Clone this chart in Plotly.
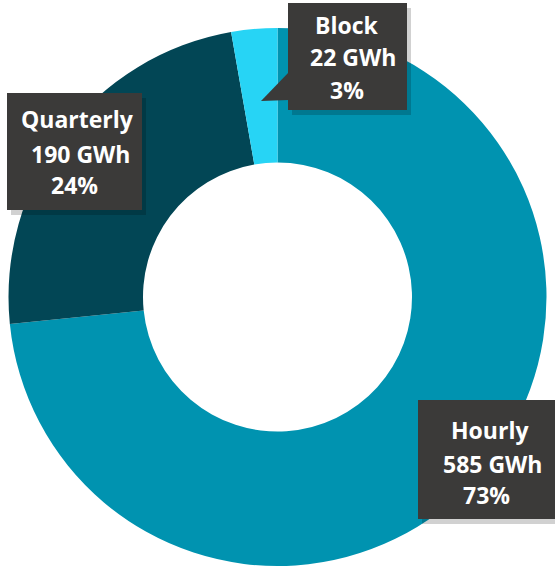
import plotly.graph_objects as go

categories = ["Hourly", "Quarterly", "Block"]
values_gwh = [585, 190, 22]
percent_labels = ["73%", "24%", "3%"]
colors = ["#0093b0", "#024655", "#27d4f5"]

W, H = 555, 571

def px(x):
    return x / W

def py(y):
    return 1 - y / H

cx, cy, r = 277.5, 297, 269

fig = go.Figure()
fig.add_trace(go.Pie(
    labels=categories,
    values=values_gwh,
    hole=0.5,
    sort=False,
    direction="clockwise",
    rotation=0,
    marker=dict(colors=colors, line=dict(width=0)),
    textinfo="none",
    hoverinfo="label+value+percent",
    showlegend=False,
    domain=dict(x=[px(cx - r), px(cx + r)], y=[py(cy + r), py(cy - r)]),
))

box_color = "#3b3a39"
shadow_color = "rgba(0,0,0,0.18)"

# label boxes: (x0, y0, x1, y1) in pixels
boxes = {
    "Block": (288, 3, 407, 110),
    "Quarterly": (7, 93, 142, 210),
    "Hourly": (418, 400, 556, 519),
}
# text line centres (x, baseline) in pixels
lines = {
    "Block": [(347, 33), (353, 65), (347, 98)],
    "Quarterly": [(77, 127), (80, 162), (74, 193)],
    "Hourly": [(490, 438), (492, 472), (486, 503)],
}

shapes = []
for name, (x0, y0, x1, y1) in boxes.items():
    shapes.append(dict(type="rect", xref="paper", yref="paper",
                       x0=px(x0 + 4), x1=px(x1 + 4), y0=py(y1 + 5), y1=py(y0 + 5),
                       fillcolor=shadow_color, line=dict(width=0)))
    shapes.append(dict(type="rect", xref="paper", yref="paper",
                       x0=px(x0), x1=px(x1), y0=py(y1), y1=py(y0),
                       fillcolor=box_color, line=dict(width=0)))

# pointer for Block callout
tri = [(289, 72), (261, 101), (289, 100)]
path = "M {} {} L {} {} L {} {} Z".format(
    px(tri[0][0]), py(tri[0][1]), px(tri[1][0]), py(tri[1][1]), px(tri[2][0]), py(tri[2][1]))
shapes.append(dict(type="path", xref="paper", yref="paper", path=path,
                   fillcolor=box_color, line=dict(width=0)))

annotations = []
for i, name in enumerate(categories):
    texts = [name, f"{values_gwh[i]} GWh", percent_labels[i]]
    for (lx, base), t in zip(lines[name], texts):
        annotations.append(dict(
            text=f"<b>{t}</b>", x=px(lx), y=py(base - 8),
            xref="paper", yref="paper", xanchor="center", yanchor="middle",
            showarrow=False, font=dict(family="Open Sans", size=23, color="white"),
        ))

fig.update_layout(
    width=W, height=H,
    margin=dict(l=0, r=0, t=0, b=0),
    paper_bgcolor="white",
    plot_bgcolor="white",
    shapes=shapes,
    annotations=annotations,
)

fig.write_html("out.html", config={"displayModeBar": False},
               post_script="document.body.style.margin='0';document.body.style.padding='0';")
